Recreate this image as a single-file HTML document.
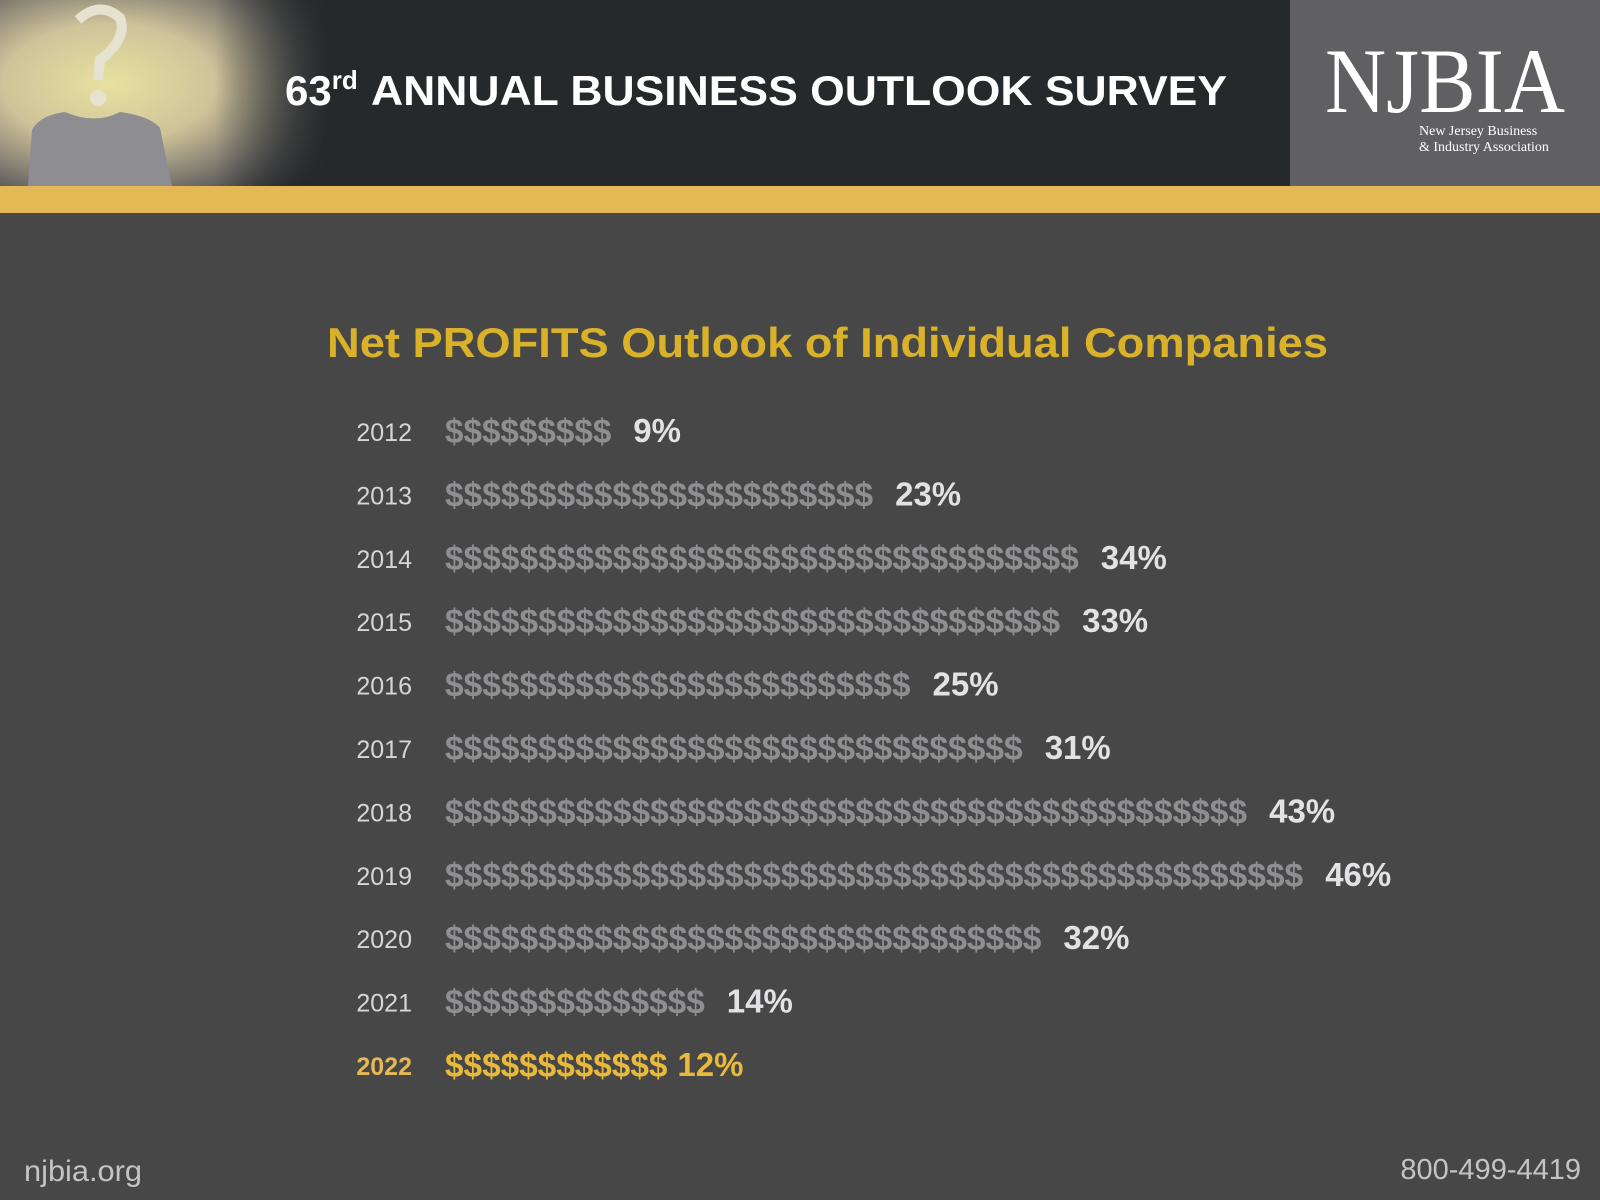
<!DOCTYPE html>
<html><head><meta charset="utf-8"><style>
html,body{margin:0;padding:0;background:#474748;}
svg{display:block;}
</style></head><body>
<svg id="chart" width="1600" height="1200" viewBox="0 0 1600 1200" xmlns="http://www.w3.org/2000/svg">
<defs>
<radialGradient id="glow" cx="0.33" cy="0.45" r="0.8">
<stop offset="0" stop-color="#e8e1a0"/><stop offset="0.4" stop-color="#cfc39a"/><stop offset="0.75" stop-color="#6d6a66"/><stop offset="1" stop-color="#25292b"/>
</radialGradient>
<linearGradient id="fade" x1="0" x2="1"><stop offset="0.65" stop-color="#25292b" stop-opacity="0"/><stop offset="1" stop-color="#25292b"/></linearGradient>
</defs>
<rect x="0" y="0" width="1600" height="1200" fill="#474748"/>
<rect x="0" y="0" width="1290" height="186" fill="#25292b"/>
<g>
<rect x="0" y="0" width="330" height="186" fill="url(#glow)"/>
<rect x="0" y="0" width="330" height="186" fill="url(#fade)"/>
<path d="M28 186 L32 130 Q40 115 65 112 Q95 125 120 112 Q150 116 160 128 L172 186 Z" fill="#8e8d91"/>
<path d="M78 20 Q100 0 120 18 Q128 38 100 60 L98 80" stroke="#e6e2d0" stroke-width="10" fill="none"/>
<circle cx="98" cy="98" r="8" fill="#e6e2d0"/>
</g>
<text x="285" y="105" fill="#ffffff" font-family="Liberation Sans, sans-serif" font-weight="bold" font-size="42">63<tspan font-size="26" dy="-16">rd</tspan><tspan dy="16" x="371" textLength="856" lengthAdjust="spacingAndGlyphs">ANNUAL BUSINESS OUTLOOK SURVEY</tspan></text>
<rect x="1290" y="0" width="310" height="186" fill="#606063"/>
<text x="1325" y="112" fill="#ffffff" font-family="Liberation Serif, serif" font-size="92" textLength="240" lengthAdjust="spacingAndGlyphs">NJBIA</text>
<text x="1419" y="135" fill="#ffffff" font-family="Liberation Serif, serif" font-size="14">New Jersey Business</text>
<text x="1419" y="151" fill="#ffffff" font-family="Liberation Serif, serif" font-size="14">&amp; Industry Association</text>
<rect x="0" y="186" width="1600" height="27" fill="#e3b855"/>
<text x="327" y="357" fill="#d9b22a" font-family="Liberation Sans, sans-serif" font-weight="bold" font-size="42" textLength="1001" lengthAdjust="spacingAndGlyphs">Net PROFITS Outlook of Individual Companies</text>
<g id="rows"></g>
<text x="24" y="1181" fill="#c4c4c6" font-family="Liberation Sans, sans-serif" font-size="30" textLength="118" lengthAdjust="spacingAndGlyphs">njbia.org</text>
<text x="1581" y="1179" fill="#c4c4c6" font-family="Liberation Sans, sans-serif" font-size="29" text-anchor="end">800-499-4419</text>
</svg>
<script>
const years = ["2012","2013","2014","2015","2016","2017","2018","2019","2020","2021","2022"];
const values = [9,23,34,33,25,31,43,46,32,14,12];
const highlightYear = "2022";
const NS="http://www.w3.org/2000/svg";
const g=document.getElementById('rows');
const y0=441, dy=63.4, x0=445, perUnit=18.7;
function yPos(i){return y0+i*dy;}
function xPos(v){return x0+v*perUnit;}
years.forEach((yr,i)=>{
  const hi = yr===highlightYear;
  const y=yPos(i);
  const t=document.createElementNS(NS,'text');
  t.setAttribute('x',412);t.setAttribute('y',y);t.setAttribute('text-anchor','end');
  t.setAttribute('font-family','Liberation Sans, sans-serif');t.setAttribute('font-size','25');
  if(hi){t.setAttribute('font-weight','bold');}
  t.setAttribute('fill',hi?'#e3b855':'#d6d6d8');
  t.textContent=yr;
  
  
  g.appendChild(t);
  const b=document.createElementNS(NS,'text');
  b.setAttribute('x',x0);b.setAttribute('y',y+2);
  b.setAttribute('font-family','Liberation Sans, sans-serif');b.setAttribute('font-weight','bold');b.setAttribute('font-size','34');
  b.setAttribute('fill',hi?'#e8b93a':'#8f8f92');
  b.setAttribute('textLength',(xPos(values[i])-x0-2).toFixed(1));
  b.setAttribute('lengthAdjust','spacingAndGlyphs');
  b.textContent='$'.repeat(values[i]);
  
  
  g.appendChild(b);
  const p=document.createElementNS(NS,'text');
  p.setAttribute('x',xPos(values[i])+(hi?8:20));p.setAttribute('y',y+1);
  p.setAttribute('font-family','Liberation Sans, sans-serif');p.setAttribute('font-size','33');
  p.setAttribute('font-weight','bold');
  p.setAttribute('fill',hi?'#e8b93a':'#e2e2e4');
  p.textContent=values[i]+'%';
  
  
  g.appendChild(p);
});
</script>
</body></html>
